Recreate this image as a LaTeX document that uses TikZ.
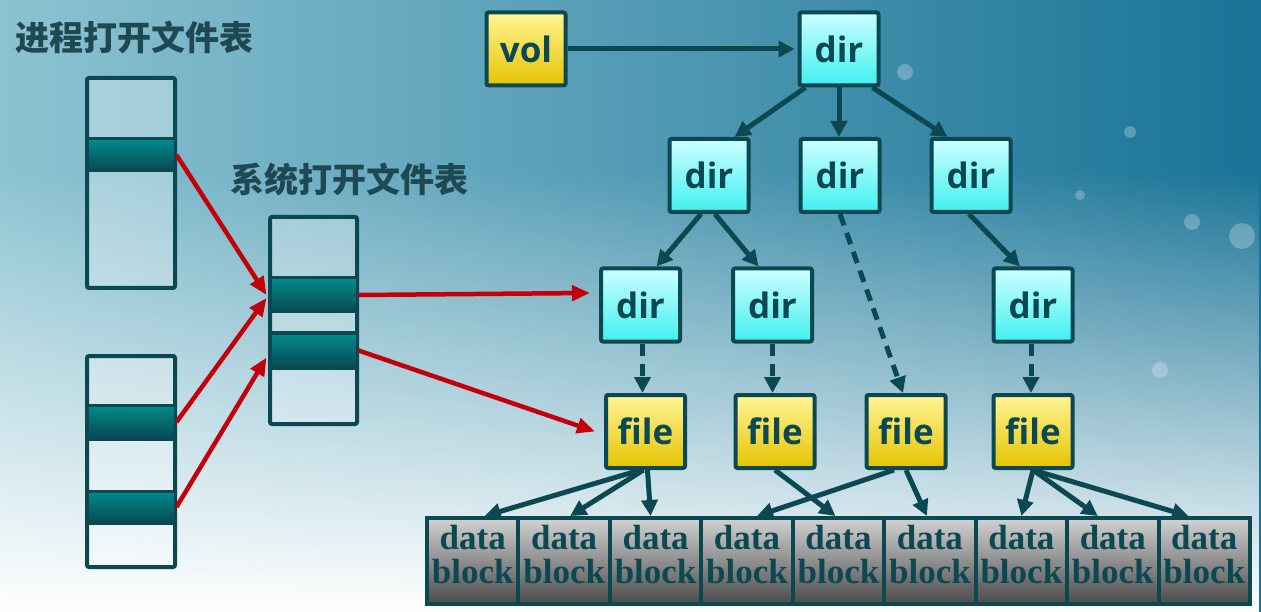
\documentclass[tikz,border=0pt]{standalone}
\usepackage{fontspec}
\usetikzlibrary{arrows.meta,fadings,calc}
\newfontfamily\cjk{Noto Sans CJK SC}
\newfontfamily\boxfont{Open Sans}
\newfontfamily\blkfont{Liberation Serif}
\definecolor{bgL}{RGB}{140,195,210}
\definecolor{bgR}{RGB}{25,115,150}
\definecolor{ink}{RGB}{12,72,82}
\definecolor{txt}{RGB}{30,72,82}
\definecolor{redarrow}{RGB}{195,0,10}
\definecolor{bandT}{RGB}{0,140,140}
\definecolor{bandB}{RGB}{8,72,82}
\definecolor{cyanT}{RGB}{205,255,255}
\definecolor{cyanB}{RGB}{64,240,240}
\definecolor{yelT}{RGB}{255,245,150}
\definecolor{yelB}{RGB}{230,195,0}
\definecolor{grayT}{RGB}{210,210,210}
\definecolor{grayB}{RGB}{75,75,75}
\tikzfading[name=fadeup, top color=transparent!100, bottom color=transparent!0]
\tikzset{
  tbl/.style={draw=ink, line width=4pt, fill=white, fill opacity=0.3, rounded corners=2pt, inner sep=0pt},
  band/.style={draw=ink, line width=3pt, top color=bandT, bottom color=bandB, inner sep=0pt, minimum width=88pt},
  rarrow/.style={draw=redarrow, line width=4.5pt, -{Triangle[length=18pt,width=15pt]}},
  tarrow/.style={draw=ink, line width=5pt, -{Triangle[length=16pt,width=16pt]}},
  dsh/.style={dash pattern=on 12pt off 8pt},
  tbox/.style={draw=ink, line width=4pt, rounded corners=2pt, minimum width=79pt, minimum height=73pt, inner sep=0pt, text=ink, font=\boxfont\bfseries\fontsize{35}{35}\selectfont},
  dirbox/.style={tbox, top color=cyanT, bottom color=cyanB},
  filebox/.style={tbox, top color=yelT, bottom color=yelB},
  blk/.style={draw=ink, line width=4pt, top color=grayT, bottom color=grayB, minimum width=91.44pt, minimum height=86pt, inner sep=0pt,
    path picture={\node[text=ink, font=\blkfont\bfseries\fontsize{35}{34}\selectfont, align=center, text width=86pt, inner sep=0pt] at ([yshift=6pt]path picture bounding box.center) {data\\block};}},
  lbl/.style={text=txt, font=\cjk\bfseries\fontsize{34}{34}\selectfont, inner sep=0pt, anchor=west}
}
\begin{document}
\begin{tikzpicture}[x=1pt,y=-1pt]
\useasboundingbox (0,0) rectangle (1261,612);
\shade[left color=bgL, right color=bgR] (0,0) rectangle (1261,612);
\fill[white, path fading=fadeup] (0,170) rectangle (1261,612);
% bubbles
\foreach \p/\r in {{(905,72)/8},{(1130,132)/6},{(1192,222)/8},{(1242,236)/13},{(1080,195)/5},{(1160,370)/8}}
  \fill[white, opacity=0.25] \p circle (\r);

% labels
\node[lbl] (l1) at (15,37) {进程打开文件表};
\node[lbl] (l2) at (230,180) {系统打开文件表};

% tables
\node[tbl, minimum width=88pt, minimum height=210pt] (p1) at (131,183) {};
\node[band, minimum height=32pt] (p1b) at (131,155) {};
\node[tbl, minimum width=88pt, minimum height=211pt] (p2) at (131,461.5) {};
\node[band, minimum height=34pt] (p2a) at (131,422) {};
\node[band, minimum height=32pt] (p2b) at (131,507) {};
\node[tbl, minimum width=87pt, minimum height=207pt] (s) at (313.5,320.5) {};
\node[band, minimum width=87pt, minimum height=34pt] (s1) at (313.5,295) {};
\node[band, minimum width=87pt, minimum height=35pt] (s2) at (313.5,350.5) {};

% tree nodes
\node[filebox] (vol) at (526,49) {vol};
\node[dirbox] (root) at (839,49) {dir};
\node[dirbox] (d1) at (709,175.5) {dir};
\node[dirbox] (d2) at (840,175.5) {dir};
\node[dirbox] (d3) at (971,175.5) {dir};
\node[dirbox] (dA) at (640.5,305) {dir};
\node[dirbox] (dB) at (772.5,305) {dir};
\node[dirbox] (dC) at (1033,305) {dir};
\node[filebox] (fA) at (645.5,431.5) {file};
\node[filebox] (fB) at (775,431.5) {file};
\node[filebox] (fC) at (906,431.5) {file};
\node[filebox] (fD) at (1033,431.5) {file};

% data blocks
\foreach \i in {1,...,9}
  \node[blk] (b\i) at ({427+91.44*(\i-0.5)},561) {};

% red arrows
\draw[rarrow] (p1b.east) -- ([xshift=-2pt]s1.west);
\draw[rarrow] (p2a.east) -- ([xshift=-2pt,yshift=-3pt]s1.west);
\draw[rarrow] (p2b.east) -- ([xshift=-2pt,yshift=-7pt]s2.west);
\draw[rarrow] (s1.east) -- ([xshift=-9pt,yshift=12pt]dA.west);
\draw[rarrow] (s2.east) -- ([xshift=-9pt]fA.west);

% tree arrows
\draw[tarrow] (vol.east) -- ([xshift=-3pt]root.west);
\draw[tarrow] ([xshift=8pt]root.south west) -- ([xshift=-16pt]d1.north east);
\draw[tarrow] (root.south) -- (root.south |- d2.north);
\draw[tarrow] ([xshift=-8pt]root.south east) -- ([xshift=18pt]d3.north west);
\draw[tarrow] ([xshift=-8pt]d1.south) -- ([xshift=16pt]dA.north);
\draw[tarrow] ([xshift=6pt]d1.south) -- ([xshift=-14pt]dB.north);
\draw[tarrow, dsh] (d2.south) -- ([xshift=-3pt]fC.north);
\draw[tarrow] ([xshift=-2pt]d3.south) -- ([xshift=-13pt]dC.north);
\draw[tarrow, dsh] ([xshift=2pt]dA.south) -- ([xshift=2pt]dA.south |- fA.north);
\draw[tarrow, dsh] (dB.south) -- (dB.south |- fB.north);
\draw[tarrow, dsh] ([xshift=-2pt]dC.south) -- ([xshift=-2pt]dC.south |- fD.north);

% file -> blocks
\draw[tarrow] ([xshift=-5pt]fA.south) -- ([xshift=12pt]b1.north);
\draw[tarrow] ([xshift=-2pt]fA.south) -- ([xshift=6pt]b2.north);
\draw[tarrow] ([xshift=2pt]fA.south) -- ([xshift=-5pt]b3.north);
\draw[tarrow] (fB.south) -- ([xshift=-3pt]b5.north);
\draw[tarrow] ([xshift=-12pt]fC.south) -- ([xshift=10pt]b4.north);
\draw[tarrow] (fC.south) -- ([xshift=-3pt]b6.north);
\draw[tarrow] (fD.south) -- (b7.north);
\draw[tarrow] (fD.south) -- ([xshift=-15pt]b8.north);
\draw[tarrow] (fD.south) -- ([xshift=-16pt]b9.north);
\end{tikzpicture}
\end{document}
